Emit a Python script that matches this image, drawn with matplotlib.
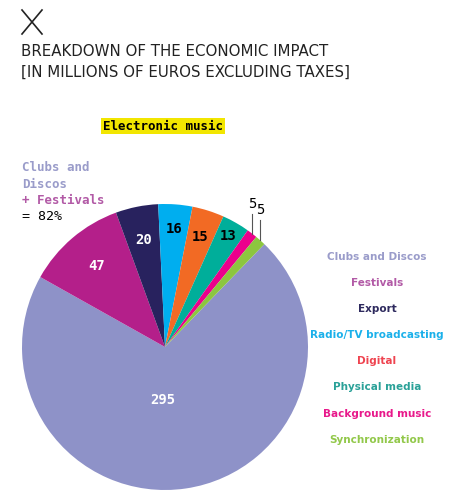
import numpy as np
import matplotlib
matplotlib.use("Agg")
import matplotlib.pyplot as plt

categories = ["Clubs and Discos", "Festivals", "Export", "Radio/TV broadcasting",
              "Digital", "Physical media", "Background music", "Synchronization"]
values = [295, 47, 20, 16, 15, 13, 5, 5]
slice_colors = ["#8e92c8", "#b41f8a", "#28225e", "#00aeef",
                "#f26a24", "#00ae9a", "#ec008c", "#8cc63f"]
legend_colors = ["#9a9cca", "#b25aa6", "#2e2a5e", "#1ab0ea",
                 "#ef4450", "#2aa198", "#e8198b", "#92c84a"]
label_colors = ["white", "white", "white", "black", "black", "black", "black", "black"]

W, H = 451, 500
fig = plt.figure(figsize=(W / 100, H / 100), dpi=100)

# pie axes: center (165, 347) px, radius 143 px
cx, cy, r = 165, 347, 143
ax = fig.add_axes([(cx - r) / W, (H - cy - r) / H, 2 * r / W, 2 * r / H])
wedges, _ = ax.pie(values, colors=slice_colors, startangle=46, counterclock=False,
                   radius=1, wedgeprops=dict(linewidth=0))
ax.set_xlim(-1, 1)
ax.set_ylim(-1, 1)
ax.axis("off")

mono = "DejaVu Sans Mono"
label_r = [0.37, 0.74, 0.76, 0.83, 0.81, 0.89]
for i, w in enumerate(wedges):
    mid = np.deg2rad((w.theta1 + w.theta2) / 2)
    if i == 0:
        mid = np.deg2rad(-92)
    if i < 6:
        ax.text(label_r[i] * np.cos(mid), label_r[i] * np.sin(mid), str(values[i]),
                ha="center", va="center", color=label_colors[i], fontsize=10,
                fontweight="bold", family=mono)
    else:
        x0, y0 = np.cos(mid), np.sin(mid)
        ax.plot([x0, x0], [y0, y0 + 0.14], color="#555555", lw=0.8, clip_on=False)
        ax.text(x0, y0 + 0.21, str(values[i]), ha="center", va="center",
                color="black", fontsize=10, family=mono)

# category list on the right
for i, (c, col) in enumerate(zip(categories, legend_colors)):
    fig.text(377 / W, 1 - (257 + 26.1 * i) / H, c, ha="center", va="center",
             color=col, fontsize=7.5, fontweight="bold")

# annotation on the left
fig.text(22 / W, 1 - 167 / H, "Clubs and", color="#9a9cca", fontsize=9,
         fontweight="bold", family=mono, va="center")
fig.text(22 / W, 1 - 184 / H, "Discos", color="#9a9cca", fontsize=9,
         fontweight="bold", family=mono, va="center")
fig.text(22 / W, 1 - 200 / H, "+ Festivals", color="#b25aa6", fontsize=9,
         fontweight="bold", family=mono, va="center")
fig.text(22 / W, 1 - 217 / H, "= 82%", color="black", fontsize=9.5,
         family=mono, va="center")

# subtitle with yellow highlight
fig.text(163 / W, 1 - 126 / H, "Electronic music", ha="center", va="center",
         fontsize=9, fontweight="bold", family=mono, color="black",
         bbox=dict(boxstyle="square,pad=0.15", fc="#f2e600", ec="none"))

# title
fig.text(21 / W, 1 - 52 / H, "BREAKDOWN OF THE ECONOMIC IMPACT", fontsize=10.8,
         color="#222222", va="center")
fig.text(21 / W, 1 - 72 / H, "[IN MILLIONS OF EUROS EXCLUDING TAXES]", fontsize=10.8,
         color="#222222", va="center")

# X mark
fig.add_artist(plt.Line2D([22 / W, 42 / W], [1 - 10 / H, 1 - 34 / H], color="#222222", lw=1.2))
fig.add_artist(plt.Line2D([22 / W, 42 / W], [1 - 34 / H, 1 - 10 / H], color="#222222", lw=1.2))

fig.savefig("out.png", dpi=100)
